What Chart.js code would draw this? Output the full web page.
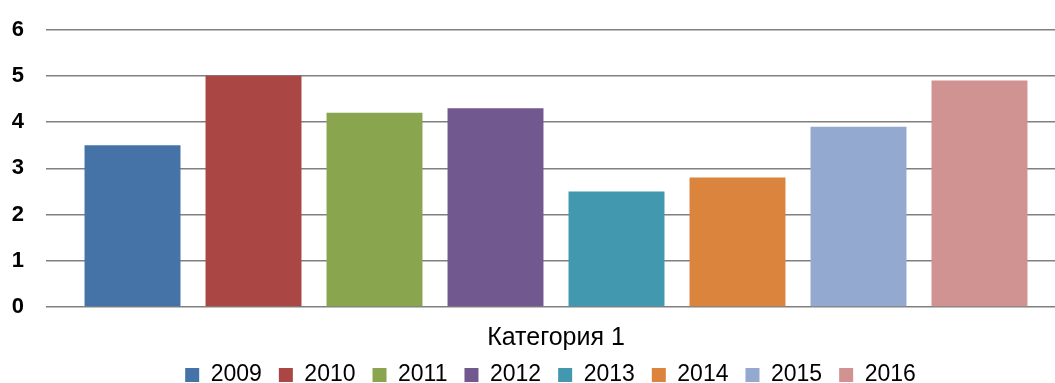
<!DOCTYPE html>
<html>
<head>
<meta charset="utf-8">
<script src="https://cdn.jsdelivr.net/npm/chart.js@4/dist/chart.umd.min.js"></script>
<style>
  html, body { margin: 0; padding: 0; background: #fff; overflow: hidden; }
  #wrap { width: 1101px; height: 383px; position: relative; }
</style>
</head>
<body>
<div id="wrap"><canvas id="c"></canvas></div>
<script>
// Chart data
const categories = ['Категория 1'];
const years = ['2009', '2010', '2011', '2012', '2013', '2014', '2015', '2016'];
const values = [3.5, 5.0, 4.2, 4.3, 2.5, 2.8, 3.9, 4.9];
const yTicks = [0, 1, 2, 3, 4, 5, 6];

// Office-style series palette
const colors = ['#4572A7', '#AA4643', '#89A54E', '#71588F', '#4198AF', '#DB843D', '#93A9CF', '#D19392'];

const FONT = '"Liberation Sans", Arial, Helvetica, sans-serif';
const VISIBLE_W = 1055;   // width of the visible part of the canvas
const LEGEND_H = 30;      // height reserved for the legend band
const LEGEND_LIFT = 6.5;  // legend row starts a little inside the axis band
const XAXIS_H = 46;       // height of the category axis band

const datasets = years.map((y, i) => ({
  label: y,
  data: [values[i]],
  backgroundColor: colors[i],
  borderWidth: 0,
  categoryPercentage: 0.949,
  barPercentage: 0.793
}));

// Keeps the legend band compact and centres it on the visible plot width
const layoutTweaks = {
  id: 'layoutTweaks',
  beforeLayout(chart) {
    const lg = chart.legend;
    if (lg && !lg._fixedFit) {
      const fit = lg.fit.bind(lg);
      lg.fit = function () { fit(); this.height = LEGEND_H; };
      lg._fixedFit = true;
    }
  },
  afterLayout(chart) {
    const lg = chart.legend, a = chart.chartArea;
    const want = (a.left + VISIBLE_W) / 2;
    const shift = want - (lg.left + lg.right) / 2;
    lg.left += shift;
    lg.right += shift;
    lg.top -= LEGEND_LIFT;
  }
};

new Chart(document.getElementById('c'), {
  type: 'bar',
  data: { labels: categories, datasets },
  plugins: [layoutTweaks],
  options: {
    responsive: true,
    maintainAspectRatio: false,
    animation: false,
    layout: { padding: { top: 29.5, right: 35, left: 0, bottom: 0 } },
    plugins: {
      tooltip: { enabled: false },
      legend: {
        position: 'bottom',
        labels: {
          boxWidth: 14,
          boxHeight: 14,
          padding: 17,
          color: '#000',
          font: { family: FONT, size: 23 }
        }
      }
    },
    scales: {
      x: {
        afterFit: (scale) => { scale.height = XAXIS_H; },
        grid: { display: false, drawTicks: false },
        border: { display: false },
        ticks: {
          color: '#000',
          padding: 16,
          font: { family: FONT, size: 25 }
        }
      },
      y: {
        min: 0,
        max: 6,
        afterBuildTicks: (scale) => { scale.ticks = yTicks.map(v => ({ value: v })); },
        afterFit: (scale) => {
          scale.width = 46;
          scale.paddingTop = 0;
          scale.paddingBottom = 0;
        },
        grid: { color: '#808080', lineWidth: 1.5, drawTicks: false },
        border: { display: false },
        ticks: {
          color: '#000',
          padding: 22,
          font: { family: FONT, size: 22, weight: 'bold' }
        }
      }
    }
  }
});
</script>
</body>
</html>
